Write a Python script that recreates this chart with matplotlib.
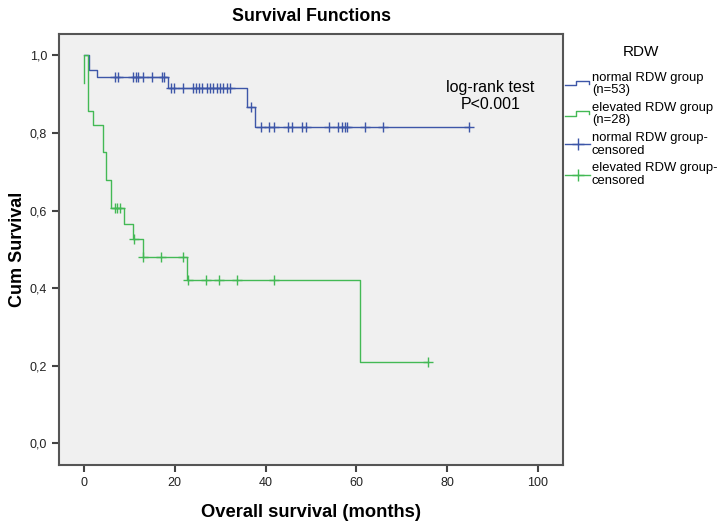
import numpy as np
import matplotlib
matplotlib.use('Agg')
import matplotlib.pyplot as plt
from matplotlib.lines import Line2D
from matplotlib.legend_handler import HandlerBase
from matplotlib.ticker import FuncFormatter

plt.rcParams['font.family'] = ['Liberation Sans', 'DejaVu Sans']

# %% Data
# normal RDW group (n=53): event times (months) and survival after each step
normal_t = [0, 1.0, 2.9, 18.4, 35.9, 37.7]
normal_s = [1.0, 0.962, 0.943, 0.917, 0.868, 0.816]
normal_end = 84.8
normal_cens = [6.8, 7.4, 10.9, 11.4, 11.9, 13.0, 14.9, 17.1, 17.7,
               19.2, 19.8, 21.9, 24.1, 24.7, 25.4, 26.1, 27.0, 27.8, 28.5,
               29.3, 30.0, 30.7, 31.5, 32.2, 36.8,
               38.9, 40.8, 41.9, 44.9, 45.9, 48.0, 48.9, 54.0, 56.0, 56.9,
               57.5, 57.9, 61.9, 65.8, 84.8]

# elevated RDW group (n=28)
elev_t = [0, 0, 0.95, 1.9, 4.1, 4.8, 5.95, 8.9, 10.9, 12.9, 22.8, 60.8]
elev_s = [0.929, 1.0, 0.857, 0.821, 0.750, 0.679, 0.607, 0.566, 0.526,
          0.481, 0.421, 0.210]
elev_end = 75.8
elev_cens = [6.8, 7.3, 7.9, 11.1, 13.0, 16.9, 21.9, 23.0, 26.9, 29.8,
             33.8, 41.9, 75.8]

labels = ['normal RDW group\n(n=53)', 'elevated RDW group\n(n=28)',
          'normal RDW group-\ncensored', 'elevated RDW group-\ncensored']
xticks = [0, 20, 40, 60, 80, 100]
yticks = [0.0, 0.2, 0.4, 0.6, 0.8, 1.0]

blue = '#3d56a8'
green = '#43b955'


def surv_at(times, surv, t):
    # survival value of a step curve at time t (right-continuous)
    idx = np.searchsorted(np.array(times), t, side='right') - 1
    return np.array(surv)[idx]


class StepHandler(HandlerBase):
    def create_artists(self, legend, orig_handle, xdescent, ydescent,
                       width, height, fontsize, trans):
        x0, y0 = -xdescent, -ydescent
        lo = y0 + 0.3 * height
        hi = y0 + 0.8 * height
        xs = [x0, x0 + 0.45 * width, x0 + 0.45 * width, x0 + 0.95 * width,
              x0 + 0.95 * width]
        ys = [lo, lo, hi, hi, hi - 0.3 * height]
        ln = Line2D(xs, ys, color=orig_handle.get_color(), lw=1.0)
        ln.set_transform(trans)
        return [ln]


fig = plt.figure(figsize=(7.22, 5.25), dpi=100)
ax = fig.add_axes([59 / 722, 1 - 465 / 525, 504 / 722, 431 / 525])
ax.set_facecolor('#f0f0f0')

# curves
l1, = ax.plot(normal_t + [normal_end], normal_s + [normal_s[-1]],
              drawstyle='steps-post', color=blue, lw=1.0)
l2, = ax.plot(elev_t + [elev_end], elev_s + [elev_s[-1]],
              drawstyle='steps-post', color=green, lw=1.0)

# censored marks
c1, = ax.plot(normal_cens, surv_at(normal_t, normal_s, normal_cens), '+',
              color=blue, ms=7, mew=1.0, ls='none')
c2, = ax.plot(elev_cens, surv_at(elev_t, elev_s, elev_cens), '+',
              color=green, ms=7, mew=1.0, ls='none')

ax.set_xlim(-5.5, 105.5)
ax.set_ylim(-0.056, 1.055)
ax.set_xticks(xticks)
ax.set_yticks(yticks)
ax.yaxis.set_major_formatter(FuncFormatter(lambda v, p: f'{v:.1f}'.replace('.', ',')))
ax.tick_params(direction='out', length=5, width=1.5, color='#444444',
               labelsize=9, labelcolor='#222222')
for sp in ax.spines.values():
    sp.set_color('#555555')
    sp.set_linewidth(1.5)

ax.set_title('Survival Functions', fontsize=12.8, fontweight='bold', pad=9)
ax.set_xlabel('Overall survival (months)', fontsize=13.2, fontweight='bold',
              labelpad=11)
ax.set_ylabel('Cum Survival', fontsize=13, fontweight='bold', labelpad=3)

ax.text(89.5, 0.895, 'log-rank test\nP<0.001', ha='center', va='center',
        fontsize=11.5, linespacing=1.15)

# legend, outside on the right
h1 = Line2D([], [], color=blue)
h2 = Line2D([], [], color=green)
h3 = Line2D([], [], color=blue, marker='+', ms=9, mew=1.0, lw=1.0)
h4 = Line2D([], [], color=green, marker='+', ms=9, mew=1.0, lw=1.0)
leg = fig.legend([h1, h2, h3, h4], labels, loc='upper left',
                 bbox_to_anchor=(565 / 722, 1 - 45 / 525), frameon=False,
                 title='RDW', title_fontsize=11, fontsize=9.4,
                 handlelength=1.95, handletextpad=0.1, labelspacing=0.45,
                 borderpad=0, borderaxespad=0, numpoints=1,
                 handler_map={h1: StepHandler(), h2: StepHandler()})
for t in leg.get_texts():
    t.set_linespacing(1.05)
leg._legend_box.sep = 9

fig.savefig('out.png', dpi=100)
